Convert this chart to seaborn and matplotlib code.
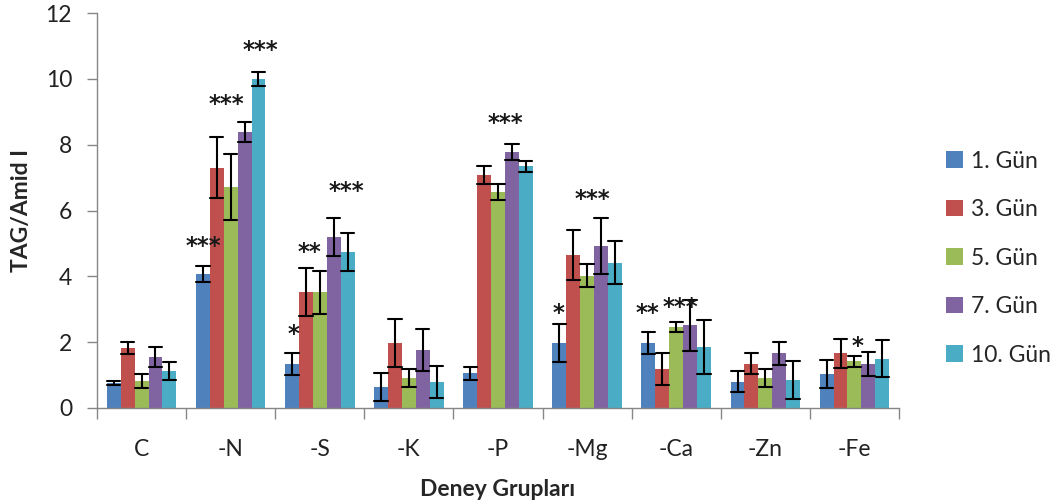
import numpy as np
import pandas as pd
import matplotlib
matplotlib.use("Agg")
import matplotlib.pyplot as plt
from matplotlib.ticker import FixedLocator
from matplotlib.transforms import offset_copy
import seaborn as sns

# Experimental groups and sampling days
groups = ["C", "-N", "-S", "-K", "-P", "-Mg", "-Ca", "-Zn", "-Fe"]
days = ["1. Gün", "3. Gün", "5. Gün", "7. Gün", "10. Gün"]

# Mean TAG/Amid I ratio per group (rows) and day (columns)
means = [
    [0.76, 1.82, 0.82, 1.55, 1.12],   # C
    [4.07, 7.30, 6.72, 8.39, 10.00],  # -N
    [1.34, 3.52, 3.52, 5.20, 4.74],   # -S
    [0.64, 1.97, 0.91, 1.76, 0.79],   # -K
    [1.06, 7.08, 6.57, 7.78, 7.35],   # -P
    [1.97, 4.65, 4.02, 4.92, 4.41],   # -Mg
    [1.97, 1.18, 2.46, 2.51, 1.85],   # -Ca
    [0.80, 1.35, 0.92, 1.66, 0.84],   # -Zn
    [1.03, 1.66, 1.42, 1.34, 1.50],   # -Fe
]

# Standard deviations for the same bars
sds = [
    [0.06, 0.18, 0.22, 0.29, 0.27],
    [0.23, 0.92, 1.00, 0.30, 0.21],
    [0.33, 0.72, 0.65, 0.57, 0.57],
    [0.43, 0.72, 0.27, 0.65, 0.50],
    [0.20, 0.28, 0.25, 0.25, 0.17],
    [0.57, 0.77, 0.35, 0.86, 0.65],
    [0.33, 0.48, 0.15, 0.77, 0.82],
    [0.32, 0.33, 0.27, 0.34, 0.58],
    [0.43, 0.45, 0.17, 0.37, 0.56],
]

# Significance markers: (group, offset within group, height, text)
sig_groups = ["-N", "-N", "-N", "-S", "-S", "-S", "-P", "-Mg", "-Mg", "-Ca", "-Ca", "-Fe"]
sig_offsets = [-0.31, -0.05, 0.33, -0.30, -0.12, 0.30, 0.08, -0.32, 0.06, -0.32, 0.05, 0.03]
sig_heights = [5.02, 9.33, 11.0, 2.34, 4.86, 6.69, 8.78, 2.98, 6.47, 2.98, 3.19, 2.0]
sig_texts = ["***", "***", "***", "*", "**", "***", "***", "*", "***", "**", "***", "*"]

palette = ["#4F81BD", "#C0504D", "#9BBB59", "#8064A2", "#4BACC6"]

# Long-form table: each bar is represented by its lower and upper bound,
# so the bar height is the mean and the min-max interval is mean +/- SD.
rows = []
for gi, g in enumerate(groups):
    for di, d in enumerate(days):
        m, s = means[gi][di], sds[gi][di]
        rows.append({"grup": g, "gun": d, "deger": m - s})
        rows.append({"grup": g, "gun": d, "deger": m + s})
df = pd.DataFrame(rows)

sns.set_theme(style="white")
plt.rcParams["font.family"] = ["Lato", "DejaVu Sans"]

FS = 16.5

fig = plt.figure(figsize=(10.57, 5.04), dpi=100)
ax = fig.add_axes([0.0918, 0.1905, 0.7587, 0.7835])

sns.barplot(
    data=df, x="grup", y="deger", hue="gun",
    order=groups, hue_order=days, palette=palette,
    estimator="mean", errorbar=lambda v: (v.min(), v.max()),
    width=0.78, saturation=1, capsize=0.75,
    err_kws={"color": "black", "linewidth": 1.5},
    linewidth=0, ax=ax,
)

# Asterisks sit high in the glyph box; nudge them down a little
star_tf = offset_copy(ax.transData, fig=fig, x=0, y=-4, units="dots")
for g, off, h, t in zip(sig_groups, sig_offsets, sig_heights, sig_texts):
    ax.text(groups.index(g) + off, h, t, ha="center", va="center",
            fontsize=16.5, fontweight="bold", color="#1a1a1a",
            family="DejaVu Sans", transform=star_tf)

ax.set_ylim(0, 12)
ax.set_xlim(-0.5, len(groups) - 0.5)
ax.set_yticks(np.arange(0, 13, 2))
ax.tick_params(axis="y", labelsize=FS, length=7, width=1, color="#868686",
               direction="out", pad=11, left=True, labelcolor="#222222")
ax.tick_params(axis="x", which="major", labelsize=FS, length=0, pad=22,
               labelcolor="#222222")
ax.xaxis.set_minor_locator(FixedLocator(np.arange(-0.5, len(groups), 1)))
ax.tick_params(axis="x", which="minor", length=8, width=1, color="#868686",
               direction="out", bottom=True)

for side in ["top", "right"]:
    ax.spines[side].set_visible(False)
for side in ["left", "bottom"]:
    ax.spines[side].set_color("#868686")
    ax.spines[side].set_linewidth(1)

ax.set_xlabel("Deney Grupları", fontsize=FS, fontweight="bold", labelpad=14)
ax.set_ylabel("TAG/Amid I", fontsize=FS, fontweight="bold", labelpad=10)

handles, labels = ax.get_legend_handles_labels()
ax.legend_.remove()
fig.legend(handles, labels, loc="center left", bbox_to_anchor=(0.884, 0.488),
           frameon=False, fontsize=FS, handlelength=0.75, handleheight=0.75,
           handletextpad=0.35, labelspacing=1.2, borderpad=0)

fig.savefig("out.png", dpi=100)
